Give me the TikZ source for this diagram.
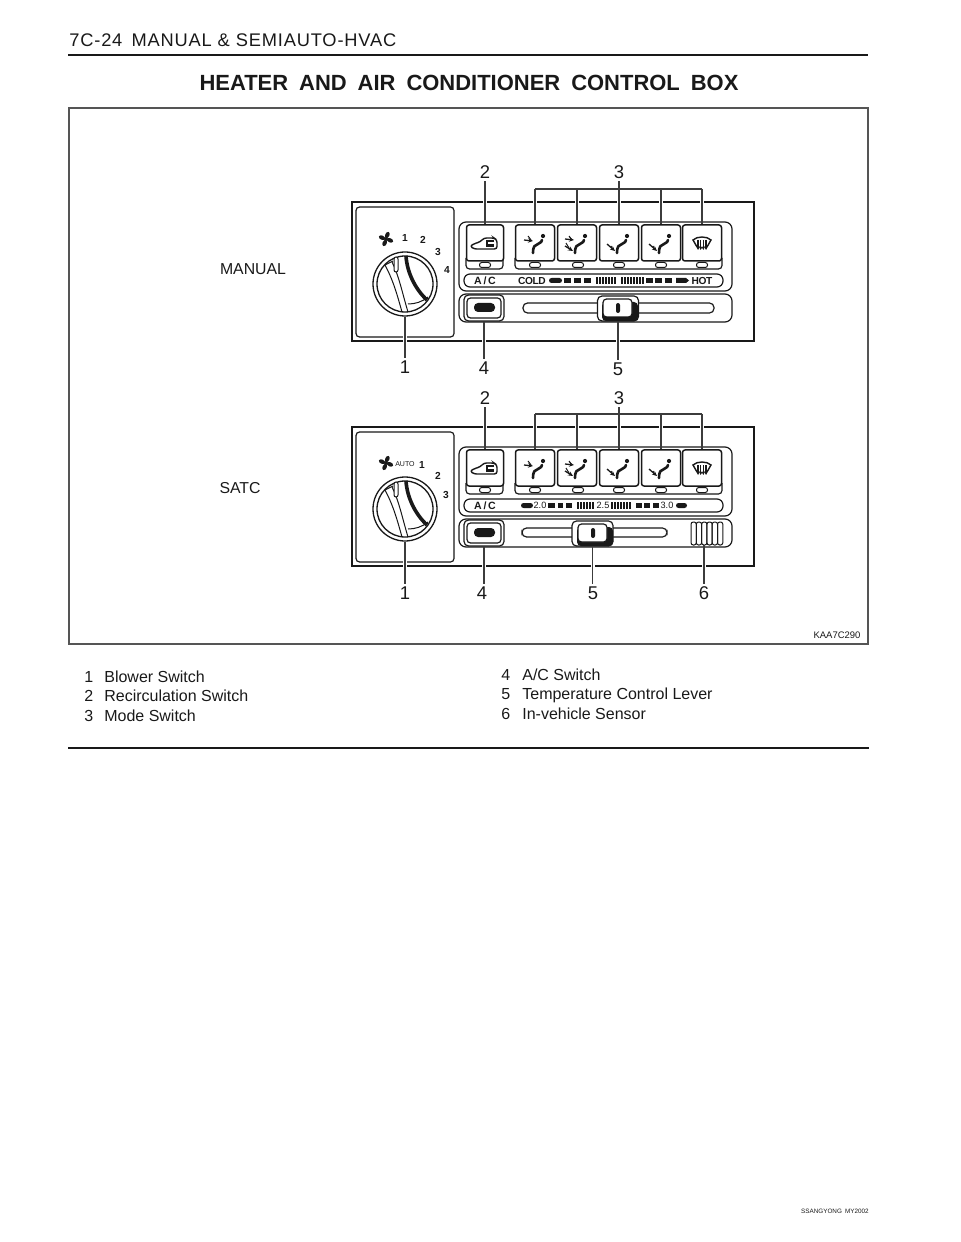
\documentclass[tikz,border=0pt]{standalone}
\usepackage{fontspec}
\setmainfont{Liberation Sans}
\usepackage{xcolor}
\definecolor{inkblack}{RGB}{25,25,25}
\definecolor{framegray}{RGB}{85,85,85}
\usetikzlibrary{arrows.meta, positioning}
\tikzset{
  headtext/.style={font=\fontsize{10.4}{12}\selectfont\addfontfeatures{LetterSpace=4.5}, inkblack, anchor=west, inner sep=0pt},
  titletext/.style={font=\fontsize{12.5}{14}\selectfont\bfseries, inkblack, inner sep=0pt},
  modetext/.style={font=\fontsize{9}{11}\selectfont, inkblack, inner sep=0pt},
  lgdtext/.style={font=\fontsize{9.1}{11}\selectfont, inkblack, anchor=base west, inner sep=0pt},
  numlabel/.style={font=\fontsize{10.5}{12}\selectfont, inkblack, inner sep=0.5mm},
  dialnum/.style={font=\fontsize{5.8}{6}\selectfont\bfseries, inkblack, inner sep=0pt},
  striptext/.style={font=\fontsize{6}{7}\selectfont\bfseries, inkblack, inner sep=0pt},
  tighttext/.style={font=\fontsize{5.8}{7}\selectfont\bfseries\addfontfeatures{LetterSpace=-4}, inkblack, inner sep=0pt},
  scaletext/.style={font=\fontsize{5.2}{6}\selectfont, inkblack, inner sep=0pt},
  housing/.style={draw=inkblack, line width=0.42mm},
  soft/.style={draw=inkblack, line width=0.24mm, rounded corners=0.7mm},
  stripend/.style={draw=inkblack, line width=0.24mm, rounded corners=1.2mm},
  recbtn/.style={draw=inkblack, fill=white, line width=0.3mm, rounded corners=0.5mm, inner sep=0pt, minimum width=7.4mm, minimum height=7.2mm},
  modebtn/.style={draw=inkblack, fill=white, line width=0.3mm, rounded corners=0.5mm, inner sep=0pt, minimum width=7.8mm, minimum height=7.2mm},
  ledpill/.style={draw=inkblack, fill=white, line width=0.2mm, rounded corners=0.45mm, inner sep=0pt, minimum width=2.2mm, minimum height=1mm},
  dialring/.style={circle, draw=inkblack, fill=white, line width=0.26mm, inner sep=0pt, minimum size=12.8mm},
  acouter/.style={draw=inkblack, fill=white, line width=0.24mm, rounded corners=0.9mm, inner sep=0pt, minimum width=8mm, minimum height=5.2mm},
  knobouter/.style={draw=inkblack, fill=white, line width=0.24mm, rounded corners=0.9mm, inner sep=0pt, minimum width=8.2mm, minimum height=5mm},
  leader/.style={draw=inkblack!85, line width=0.22mm, preaction={draw=white, line width=0.8mm, shorten >=1.2mm, shorten <=1.2mm}},
  bracket/.style={draw=inkblack!85, line width=0.22mm},
  glyph/.style={draw=inkblack, line width=0.52mm, line cap=round},
  thinglyph/.style={draw=inkblack, line width=0.2mm},
  airflow/.style={draw=inkblack, line width=0.26mm, -{Stealth[length=1mm,width=0.9mm]}},
  fanicon/.pic={
    \foreach \a in {45,135,225,315}
      \fill[inkblack, rotate=\a] (0,0) .. controls (0,-3) and (5,-6) .. (7,-3) .. controls (7,0) and (3,1) .. (0,0);
    \fill[inkblack] (0,0) circle (1.8);
  },
  dialgrip/.pic={
    \draw[thinglyph] (-20,-19) .. controls (-12,-4) and (-8,10) .. (-3,28);
    \draw[thinglyph] (-13,-22) .. controls (-6,-8) and (-3,8) .. (3,28);
    \draw[thinglyph] (-20,-19) -- (-12,-23);
    \draw[thinglyph, fill=white, rounded corners=0.4mm] (-11,-27) rectangle (-7,-12);
    \draw[thinglyph] (3,20) .. controls (10,20) and (17,18) .. (23,13);
    \draw[inkblack, line width=0.72mm] (1,-28) .. controls (2,-12) and (10,5) .. (22,16);
  },
  recglyph/.pic={
    \draw[draw=inkblack, line width=0.28mm, rounded corners=0.5mm] (-11,6) -- (-15,3) -- (-9,0) -- (-5,-1) -- (-1,-5) -- (9,-5) -- (12,-3) -- (12,6) -- cycle;
    \draw[inkblack, line width=0.44mm] (9,-2) -- (2,-2) -- (2,2.5) -- (9,2.5);
  },
  ventbody/.pic={
    \fill[inkblack] (8,-7) circle (2.1);
    \draw[glyph] (-2,10) .. controls (-2,3) and (0,2) .. (3,1) .. controls (6,0) and (7,-2) .. (7,-3);
  },
  ventface/.pic={
    \pic {ventbody};
    \draw[airflow] (-11,-3) -- (-2,-2);
    \draw[thinglyph] (-7,-7) -- (-4,-3);
  },
  ventbilevel/.pic={
    \pic {ventbody};
    \draw[airflow] (-12,-4) -- (-3,-3);
    \draw[thinglyph] (-8,-7) -- (-5,-3);
    \draw[airflow] (-12,3) -- (-4,8);
    \draw[thinglyph] (-11,0) -- (-8,5);
  },
  ventfoot/.pic={
    \pic {ventbody};
    \draw[airflow] (-12,1) -- (-4,8);
    \draw[thinglyph] (-8,3) -- (-6,7);
  },
  defglyph/.pic={
    \draw[draw=inkblack, line width=0.28mm] (-5,4) -- (-9,-3) .. controls (-5,-7) and (5,-7) .. (9,-3) -- (5,4);
    \foreach \dx in {-4,-1.3,1.3,4}
      \draw[airflow, -{Stealth[length=0.7mm,width=0.7mm]}] (\dx,-3) -- (\dx,7);
  },
}

\begin{document}
\begin{tikzpicture}[x=0.2mm, y=-0.2mm]
  \useasboundingbox (0,0) rectangle (960,1242);
  % Page head
  \node[headtext] (pagehead) at (69,40) {7C-24\enspace MANUAL \& SEMIAUTO-HVAC};
  \draw[inkblack, line width=0.5mm] (68,55) -- (868,55);
  \node[titletext] (pagetitle) at (469,83) {HEATER\enspace AND\enspace AIR\enspace CONDITIONER\enspace CONTROL\enspace BOX};
  % Figure frame
  \draw[framegray, line width=0.22mm] (69,108) rectangle (868,644);
  \node[font=\fontsize{5.4}{7}\selectfont, inkblack, inner sep=0pt] (figcode) at (837,635) {KAA7C290};
  \node[modetext] (mantag) at (253,269) {MANUAL};
  \node[modetext] (sattag) at (240,488) {SATC};

  % Panel 1: MANUAL (top)
  \draw[housing] (352,202) rectangle (754,341);
  \draw[soft] (356,207) rectangle (454,337);
  \draw[soft, rounded corners=1.4mm] (459,222) rectangle (732,291);
  \draw[soft, rounded corners=1.4mm] (459,294) rectangle (732,322);
  % Dial
  \node[dialring] (mdial) at (405,284) {};
  \draw[inkblack, line width=0.26mm] (405,284) circle (28);
  \pic at (405,284) {dialgrip};
  \pic at (386,239) {fanicon};
  \node[dialnum] (mdn1) at (405,238) {1};
  \node[dialnum] (mdn2) at (423,240) {2};
  \node[dialnum] (mdn3) at (438,252) {3};
  \node[dialnum] (mdn4) at (447,270) {4};
  % Switch row
  \draw[soft] (466,258) -- (466,269) -- (503,269) -- (503,258);
  \draw[soft] (515,258) -- (515,269) -- (722,269) -- (722,258);
  \node[ledpill] (mled0) at (485,265) {};
  \node[ledpill] (mled1) at (535,265) {};
  \node[ledpill] (mled2) at (578,265) {};
  \node[ledpill] (mled3) at (619,265) {};
  \node[ledpill] (mled4) at (661,265) {};
  \node[ledpill] (mled5) at (702,265) {};
  \node[recbtn] (mrec) at (485,243) {};
  \node[modebtn] (mbtn1) at (535,243) {};
  \node[modebtn] (mbtn2) at (577,243) {};
  \node[modebtn] (mbtn3) at (619,243) {};
  \node[modebtn] (mbtn4) at (661,243) {};
  \node[modebtn] (mbtn5) at (702,243) {};
  \pic at (485,243) {recglyph};
  \pic at (535,243) {ventface};
  \pic at (577,243) {ventbilevel};
  \pic at (619,243) {ventfoot};
  \pic at (661,243) {ventfoot};
  \pic at (702,243) {defglyph};
  % Temperature scale
  \draw[stripend] (464,274) rectangle (723,287);
  \node[striptext] (mactext) at (485,280.5) {A\,/\,C};
  \node[tighttext] (mcold) at (532,280.5) {COLD};
  \node[tighttext] (mhot) at (702,280.5) {HOT};
  \fill[inkblack, rounded corners=0.5mm] (549,278) rectangle (562,283);
  \foreach \bx/\ex in {564/571, 574/581, 584/591, 646/653, 655/662, 665/672}
    \fill[inkblack] (\bx,278) rectangle (\ex,283);
  \fill[inkblack] (676,278) -- (686,278) -- (689,280.5) -- (686,283) -- (676,283) -- cycle;
  \foreach \tx in {596,599,...,615,621,624,...,642}
    \fill[inkblack] (\tx,277) rectangle ++(1.6,7);
  % A/C switch and lever
  \node[acouter] (macsw) at (484,308) {};
  \draw[soft] (467,298) rectangle (501,318);
  \fill[inkblack, rounded corners=0.8mm] (474,303) rectangle (495,312);
  \draw[stripend, rounded corners=0.9mm] (523,303) rectangle (714,313);
  \node[knobouter] (mknob) at (618,308.5) {};
  \fill[inkblack, rounded corners=0.8mm] (602,302) rectangle (638,321);
  \draw[soft, fill=white] (603,299) rectangle (632,317);
  \fill[inkblack, rounded corners=0.4mm] (616,303) rectangle (620,313);
  % Leaders
  \node[numlabel] (mlab1) at (405,367) {1};
  \node[numlabel] (mlab2) at (485,172) {2};
  \node[numlabel] (mlab3) at (619,172) {3};
  \node[numlabel] (mlab4) at (484,368) {4};
  \node[numlabel] (mlab5) at (618,369) {5};
  \coordinate (mbrk1) at (535,189);
  \coordinate (mbrk2) at (577,189);
  \coordinate (mbrk4) at (661,189);
  \coordinate (mbrk5) at (702,189);
  \draw[leader] (mlab1.north) -- (mdial.south);
  \draw[leader] (mlab2.south) -- (mrec.north);
  \draw[leader] (mlab3.south) -- (mbtn3.north);
  \draw[leader] (mlab4.north) -- (macsw.south);
  \draw[leader] (mlab5.north) -- (mknob.south);
  \draw[leader] (mbrk1) -- (mbtn1.north);
  \draw[leader] (mbrk2) -- (mbtn2.north);
  \draw[leader] (mbrk4) -- (mbtn4.north);
  \draw[leader] (mbrk5) -- (mbtn5.north);
  \draw[bracket] (mbrk1) -- (mbrk5);

  % Panel 2: SATC (bottom)
  \draw[housing] (352,427) rectangle (754,566);
  \draw[soft] (356,432) rectangle (454,562);
  \draw[soft, rounded corners=1.4mm] (459,447) rectangle (732,516);
  \draw[soft, rounded corners=1.4mm] (459,519) rectangle (732,547);
  % Dial
  \node[dialring] (sdial) at (405,509) {};
  \draw[inkblack, line width=0.26mm] (405,509) circle (28);
  \pic at (405,509) {dialgrip};
  \pic at (386,463) {fanicon};
  \node[font=\fontsize{4}{5}\selectfont, inkblack, inner sep=0pt] (sauto) at (405,464) {AUTO};
  \node[dialnum] (sdn1) at (422,465) {1};
  \node[dialnum] (sdn2) at (438,476) {2};
  \node[dialnum] (sdn3) at (446,495) {3};
  % Switch row
  \draw[soft] (466,483) -- (466,494) -- (503,494) -- (503,483);
  \draw[soft] (515,483) -- (515,494) -- (722,494) -- (722,483);
  \node[ledpill] (sled0) at (485,490) {};
  \node[ledpill] (sled1) at (535,490) {};
  \node[ledpill] (sled2) at (578,490) {};
  \node[ledpill] (sled3) at (619,490) {};
  \node[ledpill] (sled4) at (661,490) {};
  \node[ledpill] (sled5) at (702,490) {};
  \node[recbtn] (srec) at (485,468) {};
  \node[modebtn] (sbtn1) at (535,468) {};
  \node[modebtn] (sbtn2) at (577,468) {};
  \node[modebtn] (sbtn3) at (619,468) {};
  \node[modebtn] (sbtn4) at (661,468) {};
  \node[modebtn] (sbtn5) at (702,468) {};
  \pic at (485,468) {recglyph};
  \pic at (535,468) {ventface};
  \pic at (577,468) {ventbilevel};
  \pic at (619,468) {ventfoot};
  \pic at (661,468) {ventfoot};
  \pic at (702,468) {defglyph};
  % Pressure scale
  \draw[stripend] (464,499) rectangle (723,512);
  \node[striptext] (sactext) at (485,505.5) {A\,/\,C};
  \fill[inkblack, rounded corners=0.5mm] (521,503) rectangle (533,508);
  \node[scaletext] (sval1) at (540,505) {2.0};
  \node[scaletext] (sval2) at (603,505) {2.5};
  \node[scaletext] (sval3) at (667,505) {3.0};
  \foreach \bx/\ex in {548/555, 558/563, 566/572, 636/642, 644/650, 653/659}
    \fill[inkblack] (\bx,503) rectangle (\ex,508);
  \fill[inkblack, rounded corners=0.5mm] (676,503) rectangle (687,508);
  \foreach \tx in {577,580,...,593,611,614,...,630}
    \fill[inkblack] (\tx,502) rectangle ++(1.6,7);
  % A/C switch and lever
  \node[acouter] (sacsw) at (484,533) {};
  \draw[soft] (467,523) rectangle (501,543);
  \fill[inkblack, rounded corners=0.8mm] (474,528) rectangle (495,537);
  \draw[stripend, rounded corners=0.9mm] (522,528) rectangle (667,537);
  \node[knobouter] (sknob) at (592.5,533.5) {};
  \fill[inkblack, rounded corners=0.8mm] (577,527) rectangle (613,546);
  \draw[soft, fill=white] (578,524) rectangle (607,542);
  \fill[inkblack, rounded corners=0.4mm] (591,528) rectangle (595,538);
  % In-vehicle sensor
  \foreach \sx in {691,696.3,...,718}
    \draw[thinglyph, rounded corners=0.45mm] (\sx,522) rectangle ++(5.3,23);
  % Leaders
  \node[numlabel] (slab1) at (405,593) {1};
  \node[numlabel] (slab2) at (485,398) {2};
  \node[numlabel] (slab3) at (619,398) {3};
  \node[numlabel] (slab4) at (482,593) {4};
  \node[numlabel] (slab5) at (593,593) {5};
  \node[numlabel] (slab6) at (704,593) {6};
  \coordinate (sbrk1) at (535,414);
  \coordinate (sbrk2) at (577,414);
  \coordinate (sbrk4) at (661,414);
  \coordinate (sbrk5) at (702,414);
  \coordinate (ssensor) at (704,545);
  \draw[leader] (slab1.north) -- (sdial.south);
  \draw[leader] (slab2.south) -- (srec.north);
  \draw[leader] (slab3.south) -- (sbtn3.north);
  \draw[leader] (slab4.north -| sacsw) -- (sacsw.south);
  \draw[leader] (slab5.north -| sknob) -- (sknob.south);
  \draw[leader] (slab6.north) -- (ssensor);
  \draw[leader] (sbrk1) -- (sbtn1.north);
  \draw[leader] (sbrk2) -- (sbtn2.north);
  \draw[leader] (sbrk4) -- (sbtn4.north);
  \draw[leader] (sbrk5) -- (sbtn5.north);
  \draw[bracket] (sbrk1) -- (sbrk5);

  % Legend
  \node[lgdtext] (lgd1) at (84,682) {1};
  \node[lgdtext] (lgd1t) at (104,682) {Blower Switch};
  \node[lgdtext] (lgd2) at (84,701) {2};
  \node[lgdtext] (lgd2t) at (104,701) {Recirculation Switch};
  \node[lgdtext] (lgd3) at (84,721) {3};
  \node[lgdtext] (lgd3t) at (104,721) {Mode Switch};
  \node[lgdtext] (lgd4) at (501,680) {4};
  \node[lgdtext] (lgd4t) at (522,680) {A/C Switch};
  \node[lgdtext] (lgd5) at (501,699) {5};
  \node[lgdtext] (lgd5t) at (522,699) {Temperature Control Lever};
  \node[lgdtext] (lgd6) at (501,719) {6};
  \node[lgdtext] (lgd6t) at (522,719) {In-vehicle Sensor};
  \draw[inkblack, line width=0.5mm] (68,748) -- (869,748);
  % Footer
  \node[font=\fontsize{3.6}{4}\selectfont, inkblack, anchor=east, inner sep=0pt] (pagefoot) at (869,1211) {SSANGYONG\enspace MY2002};
\end{tikzpicture}
\end{document}
